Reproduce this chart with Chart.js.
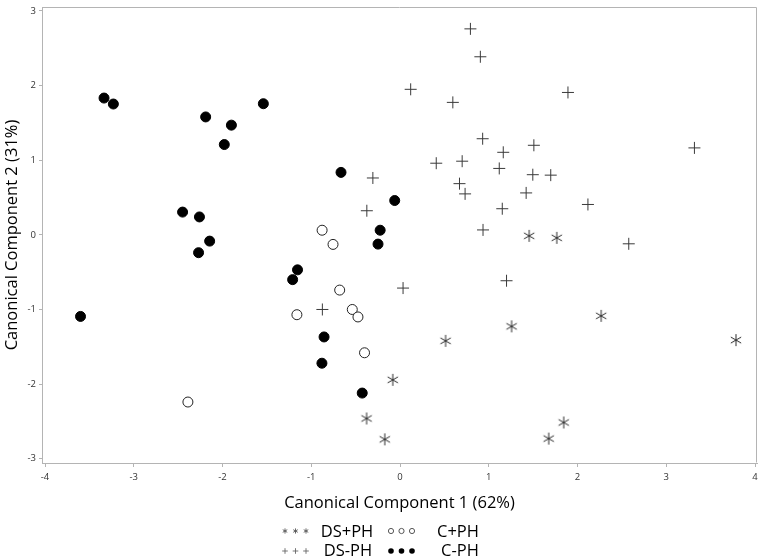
<!DOCTYPE html>
<html>
<head>
<meta charset="utf-8">
<script src="https://cdn.jsdelivr.net/npm/chart.js@4/dist/chart.umd.min.js"></script>
<style>
html,body{margin:0;padding:0;background:#fff;}
canvas{display:block;}
</style>
</head>
<body>
<canvas id="c" width="764" height="560"></canvas>
<script>
// ---- Data ----
const dsPlusPhX = [1.455, 1.766, 2.266, 1.257, 0.513, 3.785, -0.082, 1.844, 1.675, -0.172, -0.377];
const dsPlusPhY = [-0.013, -0.04, -1.085, -1.226, -1.42, -1.41, -1.943, -2.514, -2.73, -2.74, -2.46];

const dsMinusPhX = [0.793, 0.905, 0.12, 0.595, 1.892, 0.931, 1.508, 1.163, 3.317, 0.408, 0.70, 1.118, 1.496, 1.698, 0.67, 0.733, 1.421, 1.152, 2.117, 0.935, -0.306, -0.374, 2.577, 1.20, 0.034, -0.875];
const dsMinusPhY = [2.76, 2.386, 1.95, 1.775, 1.908, 1.288, 1.20, 1.106, 1.165, 0.96, 0.987, 0.89, 0.806, 0.80, 0.686, 0.549, 0.562, 0.35, 0.407, 0.066, 0.762, 0.323, -0.12, -0.615, -0.713, -1.0];

const cPlusPhX = [-0.878, -0.755, -0.68, -0.538, -0.474, -1.162, -0.40, -2.39];
const cPlusPhY = [0.062, -0.128, -0.74, -1.0, -1.10, -1.07, -1.58, -2.24];

const cMinusPhX = [-3.335, -3.23, -2.19, -1.90, -1.98, -1.54, -0.665, -2.45, -2.26, -2.145, -2.27, -1.21, -1.155, -3.60, -0.856, -0.88, -0.426, -0.248, -0.06, -0.224];
const cMinusPhY = [1.833, 1.753, 1.58, 1.47, 1.21, 1.757, 0.837, 0.305, 0.24, -0.084, -0.239, -0.60, -0.469, -1.093, -1.368, -1.72, -2.12, -0.124, 0.46, 0.062];

const seriesNames = ['DS+PH', 'DS-PH', 'C+PH', 'C-PH'];
const xTickValues = [-4, -3, -2, -1, 0, 1, 2, 3, 4];
const yTickValues = [-3, -2, -1, 0, 1, 2, 3];
const xTitle = 'Canonical Component 1 (62%)';
const yTitle = 'Canonical Component 2 (31%)';

// ---- helpers ----
function pts(xs, ys) { return xs.map((x, i) => ({x: x, y: ys[i]})); }

function drawAsterisk(ctx, cx, cy, r) {
  const a = Math.PI / 6;
  ctx.beginPath();
  ctx.moveTo(cx, cy - r); ctx.lineTo(cx, cy + r);
  ctx.moveTo(cx - r * Math.cos(a), cy - r * Math.sin(a)); ctx.lineTo(cx + r * Math.cos(a), cy + r * Math.sin(a));
  ctx.moveTo(cx - r * Math.cos(a), cy + r * Math.sin(a)); ctx.lineTo(cx + r * Math.cos(a), cy - r * Math.sin(a));
  ctx.stroke();
}
const starImg = document.createElement('canvas');
starImg.width = 14; starImg.height = 14;
(function () {
  const g = starImg.getContext('2d');
  g.strokeStyle = '#2a2a2a';
  g.lineWidth = 1;
  drawAsterisk(g, 7, 7, 6);
})();

const FONT = "'Open Sans', 'DejaVu Sans', sans-serif";
const AXIS_COLOR = '#b4b4b4';

const framePlugin = {
  id: 'frame',
  afterDatasetsDraw(chart) {
    const {ctx, chartArea: a} = chart;
    ctx.save();
    ctx.strokeStyle = AXIS_COLOR;
    ctx.lineWidth = 1;
    ctx.beginPath();
    ctx.moveTo(Math.round(a.left) + 0.5, Math.round(a.top) + 0.5);
    ctx.lineTo(Math.round(a.right) - 0.5, Math.round(a.top) + 0.5);
    ctx.lineTo(Math.round(a.right) - 0.5, Math.round(a.bottom) - 0.5);
    ctx.stroke();
    ctx.restore();
  }
};

const legendPlugin = {
  id: 'customLegend',
  afterDraw(chart) {
    const ctx = chart.ctx;
    ctx.save();
    ctx.font = "16.5px " + FONT;
    ctx.fillStyle = '#000';
    ctx.textBaseline = 'middle';
    ctx.textAlign = 'center';
    const rows = [532, 551];
    const g1 = [285, 295.5, 306];
    const g2 = [391, 401.5, 412];
    // row 1: DS+PH (asterisk), C+PH (open circle)
    ctx.strokeStyle = '#555';
    ctx.lineWidth = 0.9;
    g1.forEach(x => drawAsterisk(ctx, x, rows[0] - 1, 2.6));
    g2.forEach(x => { ctx.beginPath(); ctx.arc(x, rows[0] - 1, 2.6, 0, Math.PI * 2); ctx.strokeStyle = '#444'; ctx.stroke(); });
    ctx.fillText(seriesNames[0], 347, rows[0]);
    ctx.fillText(seriesNames[2], 458, rows[0]);
    // row 2: DS-PH (plus), C-PH (filled circle)
    ctx.strokeStyle = '#666';
    g1.forEach(x => { ctx.beginPath(); ctx.moveTo(x - 2.8, rows[1]); ctx.lineTo(x + 2.8, rows[1]); ctx.moveTo(x, rows[1] - 2.8); ctx.lineTo(x, rows[1] + 2.8); ctx.stroke(); });
    g2.forEach(x => { ctx.beginPath(); ctx.arc(x, rows[1], 2.8, 0, Math.PI * 2); ctx.fillStyle = '#000'; ctx.fill(); });
    ctx.fillStyle = '#000';
    ctx.fillText(seriesNames[1], 348, rows[1]);
    ctx.fillText(seriesNames[3], 460, rows[1]);
    ctx.restore();
  }
};

new Chart(document.getElementById('c'), {
  type: 'scatter',
  data: {
    datasets: [
      { label: seriesNames[0], data: pts(dsPlusPhX, dsPlusPhY), pointStyle: starImg, pointRadius: 6 },
      { label: seriesNames[1], data: pts(dsMinusPhX, dsMinusPhY), pointStyle: 'cross', pointRadius: 6,
        borderColor: '#3a3a3a', backgroundColor: '#3a3a3a', borderWidth: 1 },
      { label: seriesNames[2], data: pts(cPlusPhX, cPlusPhY), pointStyle: 'circle', pointRadius: 5,
        borderColor: '#222', backgroundColor: '#fff', borderWidth: 1 },
      { label: seriesNames[3], data: pts(cMinusPhX, cMinusPhY), pointStyle: 'circle', pointRadius: 5,
        borderColor: '#000', backgroundColor: '#000', borderWidth: 1 }
    ]
  },
  options: {
    responsive: false,
    animation: false,
    devicePixelRatio: 1,
    events: [],
    layout: { padding: { left: 0, right: 4, top: 3, bottom: 0 } },
    plugins: { legend: { display: false }, tooltip: { enabled: false } },
    scales: {
      x: {
        type: 'linear',
        min: -4.034, max: 4.022,
        afterBuildTicks(s) { s.ticks = xTickValues.map(v => ({value: v})); },
        afterFit(s) { s.height = 97; s.paddingLeft = 0; s.paddingRight = 0; },
        grid: { drawOnChartArea: false, drawTicks: true, tickLength: 4, color: AXIS_COLOR },
        border: { display: true, color: AXIS_COLOR, width: 1 },
        ticks: { padding: 5, color: '#333', font: { family: FONT, size: 9.5 }, maxRotation: 0,
                 callback: v => String(v) },
        title: { display: true, text: xTitle, color: '#000', font: { family: FONT, size: 16.5 },
                 padding: { top: 0, bottom: 47 } }
      },
      y: {
        type: 'linear',
        min: -3.057, max: 3.053,
        afterBuildTicks(s) { s.ticks = yTickValues.map(v => ({value: v})); },
        afterFit(s) { s.width = 42; s.paddingTop = 0; s.paddingBottom = 0; },
        grid: { drawOnChartArea: false, drawTicks: true, tickLength: 3, color: AXIS_COLOR },
        border: { display: true, color: AXIS_COLOR, width: 1 },
        ticks: { padding: 3, color: '#333', font: { family: FONT, size: 9.5 },
                 callback: v => String(v) },
        title: { display: true, text: yTitle, color: '#000', font: { family: FONT, size: 16.5 },
                 padding: { top: 2, bottom: 0 } }
      }
    }
  },
  plugins: [framePlugin, legendPlugin]
});
</script>
</body>
</html>
